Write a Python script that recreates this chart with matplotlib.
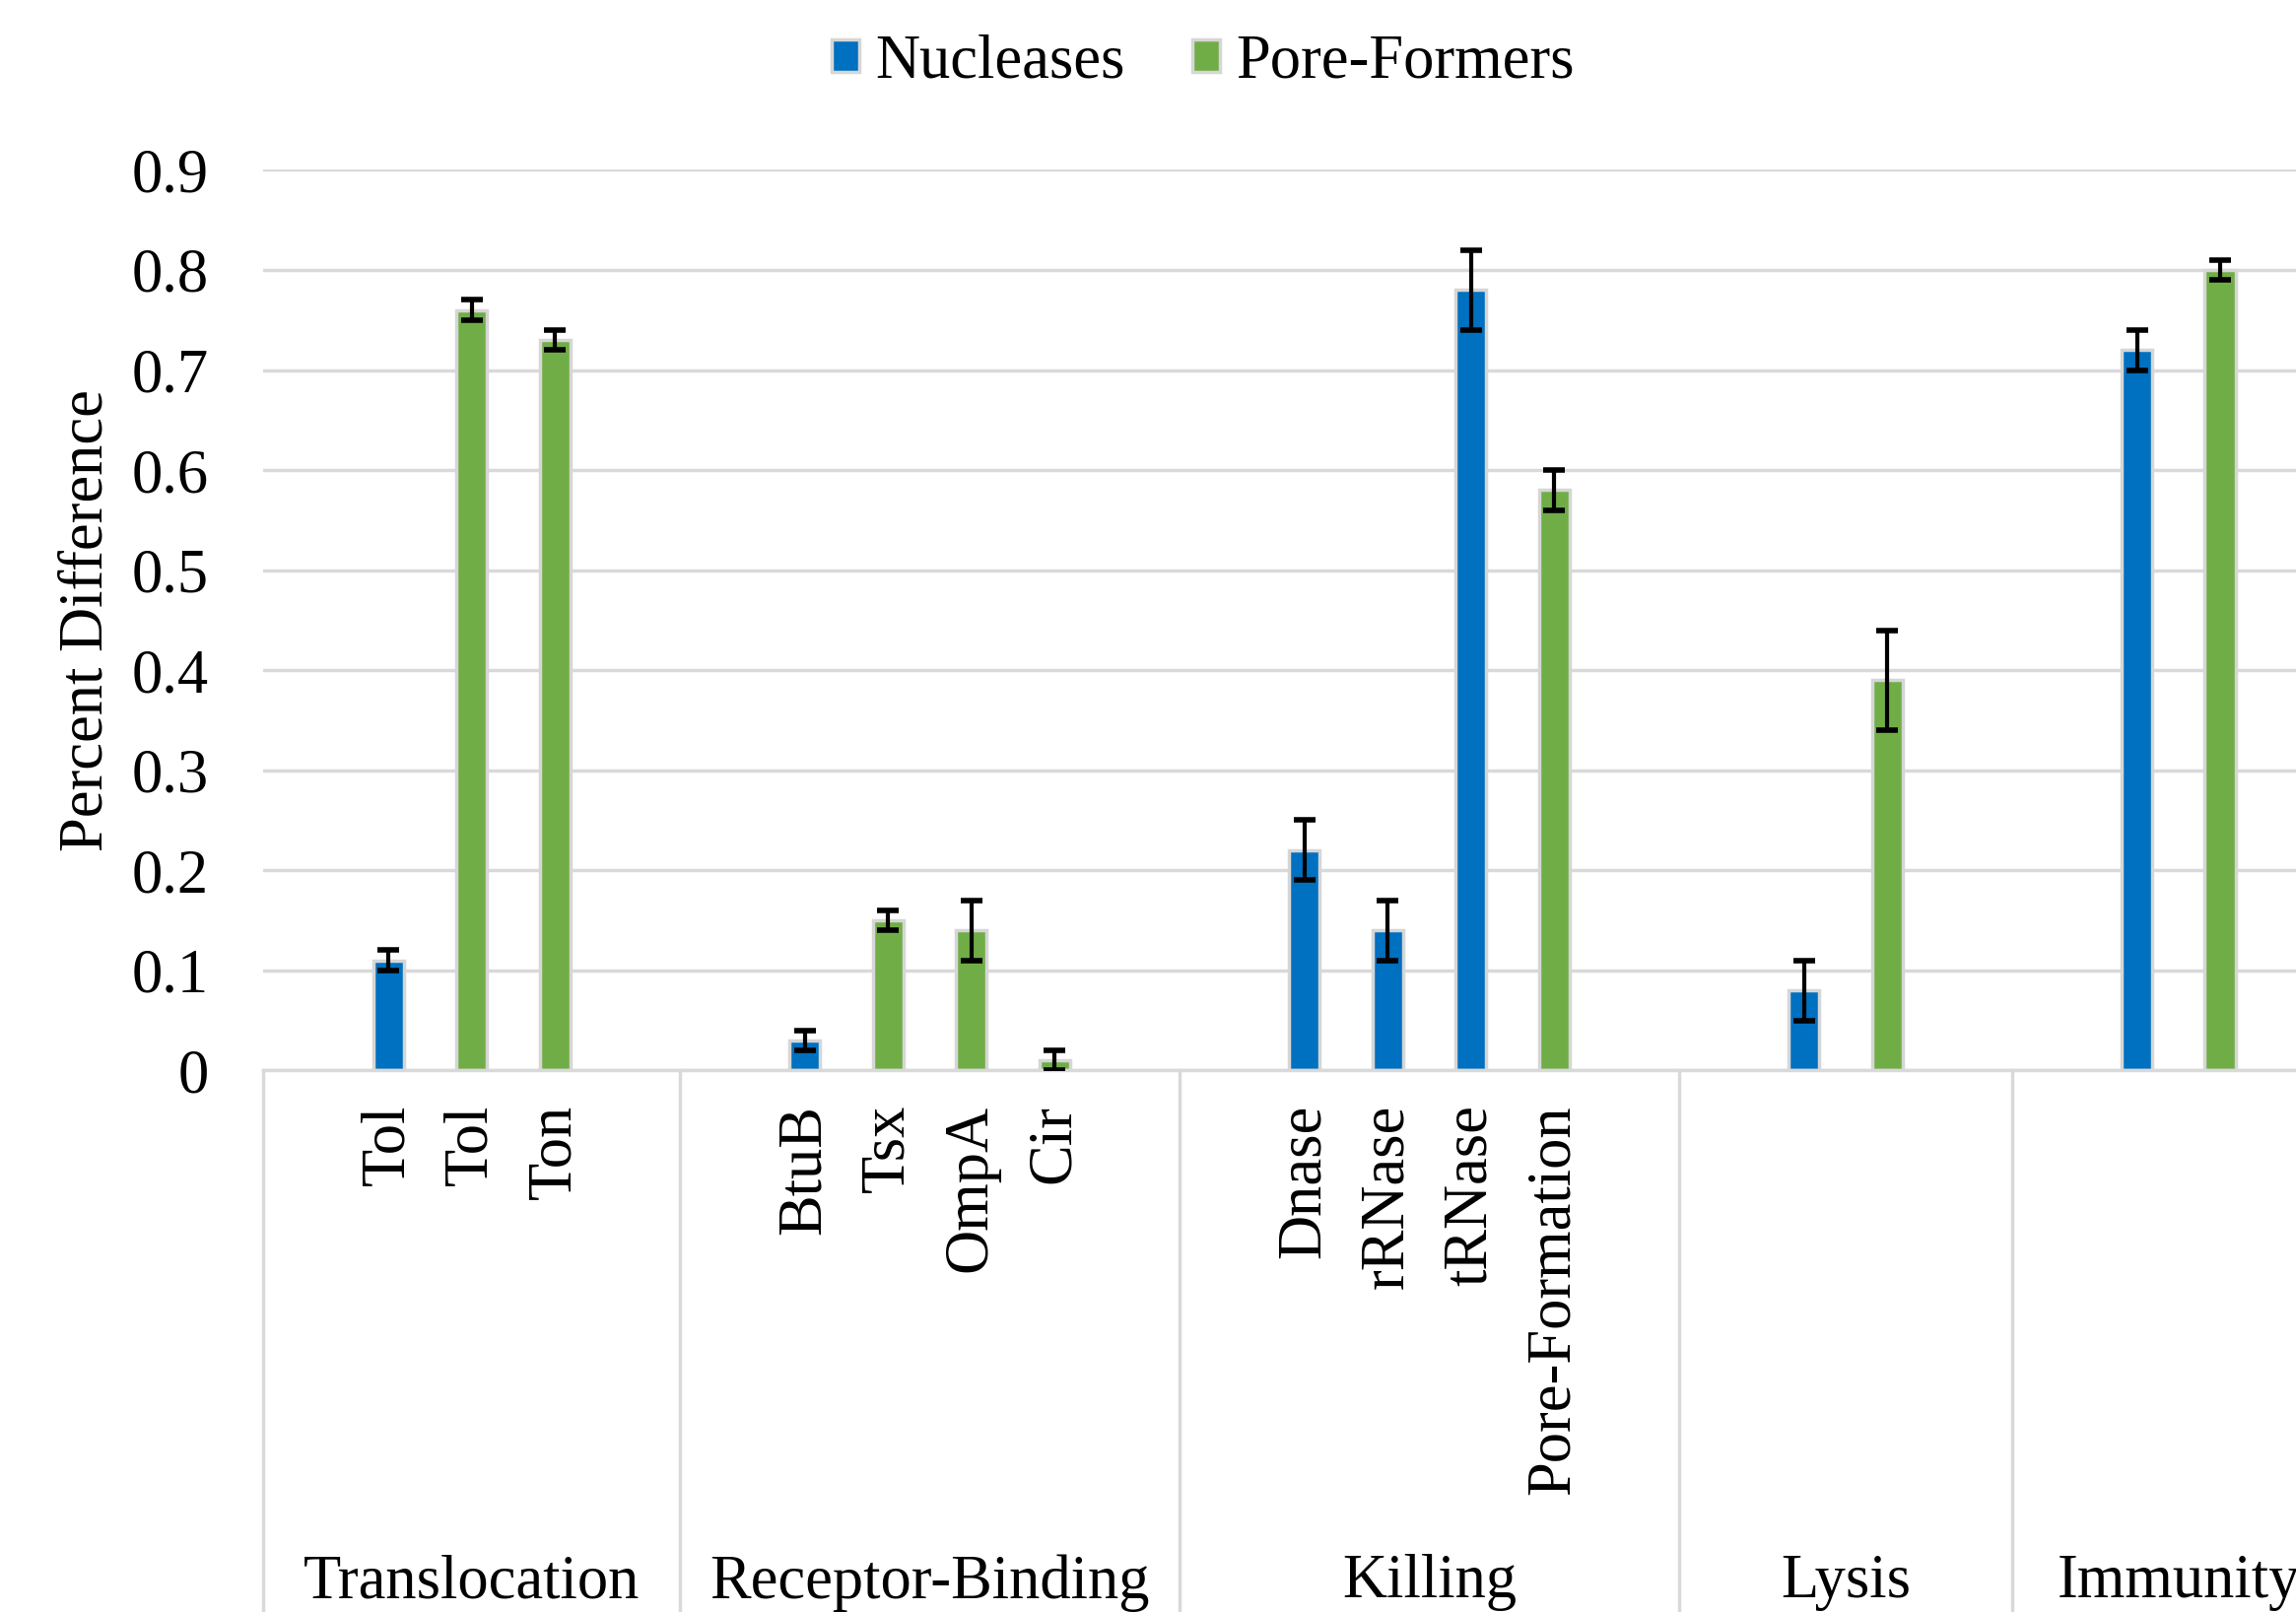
import numpy as np
import matplotlib
matplotlib.use("Agg")
import matplotlib.pyplot as plt
from matplotlib.patches import Patch
from matplotlib.transforms import blended_transform_factory

# one slot per category; blank slots pad the groups like the original sheet
groups = ["Translocation", "Receptor-Binding", "Killing", "Lysis", "Immunity"]
group_sizes = [5, 6, 6, 4, 4]
sub_labels = ["", "Tol", "Tol", "Ton", "",
              "", "BtuB", "Tsx", "OmpA", "Cir", "",
              "", "Dnase", "rRNase", "tRNase", "Pore-Formation", "",
              "", "", "", "",
              "", "", "", ""]

nan = np.nan
nucleases = [nan, 0.11, nan, nan, nan,
             nan, 0.03, nan, nan, nan, nan,
             nan, 0.22, 0.14, 0.78, nan, nan,
             nan, 0.08, nan, nan,
             nan, 0.72, nan, nan]
nucleases_err = [nan, 0.01, nan, nan, nan,
                 nan, 0.01, nan, nan, nan, nan,
                 nan, 0.03, 0.03, 0.04, nan, nan,
                 nan, 0.03, nan, nan,
                 nan, 0.02, nan, nan]
pore_formers = [nan, nan, 0.76, 0.73, nan,
                nan, nan, 0.15, 0.14, 0.01, nan,
                nan, nan, nan, nan, 0.58, nan,
                nan, nan, 0.39, nan,
                nan, nan, 0.80, nan]
pore_formers_err = [nan, nan, 0.01, 0.01, nan,
                    nan, nan, 0.01, 0.03, 0.01, nan,
                    nan, nan, nan, nan, 0.02, nan,
                    nan, nan, 0.05, nan,
                    nan, nan, 0.01, nan]

BLUE = "#0070C0"
GREEN = "#70AD47"
EDGE = "#d6d6d6"
GRID = "#d9d9d9"
FS = 45

plt.rcParams["font.family"] = ["Liberation Serif", "DejaVu Serif"]

fig = plt.figure(figsize=(23.3, 16.36), dpi=100)
ax = fig.add_axes([0.1148, 0.336, 0.9066, 0.5586])

x = np.arange(len(sub_labels))


def draw_series(values, errors, color):
    values = np.array(values, dtype=float)
    errors = np.array(errors, dtype=float)
    m = ~np.isnan(values)
    ax.bar(x[m], values[m], width=0.37, color=color, edgecolor=EDGE,
           linewidth=2.5, zorder=2)
    ax.errorbar(x[m], values[m], yerr=errors[m], fmt="none", ecolor="black",
                elinewidth=3, capsize=8, capthick=4, zorder=3)


draw_series(nucleases, nucleases_err, BLUE)
draw_series(pore_formers, pore_formers_err, GREEN)

ax.set_xlim(-0.5, len(sub_labels) - 0.5)
ax.set_ylim(0, 0.9)
ax.set_yticks(np.arange(0, 0.91, 0.1))
ax.set_yticklabels(["0"] + [f"{v:.1f}" for v in np.arange(0.1, 0.91, 0.1)])
ax.tick_params(axis="y", length=0, pad=40, labelsize=FS)
ax.set_xticks([])
ax.yaxis.grid(True, color=GRID, linewidth=2.5)
ax.set_axisbelow(True)
for side in ["left", "right", "top"]:
    ax.spines[side].set_visible(False)
ax.spines["bottom"].set_color(GRID)
ax.spines["bottom"].set_linewidth(2.5)

ax.set_ylabel("Percent Difference", fontsize=FS)
ax.yaxis.set_label_coords(-0.071, 0.5)

# two-level category axis: rotated sub labels, group names and dividers
trans = blended_transform_factory(ax.transData, ax.transAxes)
for xi, lab in zip(x, sub_labels):
    if lab:
        ax.text(xi, -0.038, lab, rotation=90, ha="center", va="top",
                fontsize=FS, transform=trans)

start = 0
for name, size in zip(groups, group_sizes):
    ax.plot([start - 0.5, start - 0.5], [0, -0.7], color=GRID, lw=2.5,
            transform=trans, clip_on=False)
    ax.text(start - 0.5 + size / 2, -0.569, name, ha="center", va="center",
            fontsize=FS, transform=trans)
    start += size

handles = [Patch(facecolor=BLUE, edgecolor=EDGE, linewidth=2.5, label="Nucleases"),
           Patch(facecolor=GREEN, edgecolor=EDGE, linewidth=2.5, label="Pore-Formers")]
fig.legend(handles=handles, loc="center", bbox_to_anchor=(0.524, 0.961), ncol=2,
           frameon=False, fontsize=FS, handlelength=0.45, handleheight=0.45,
           handletextpad=0.25, columnspacing=1.1, borderaxespad=0)

fig.savefig("out.png", dpi=100)
